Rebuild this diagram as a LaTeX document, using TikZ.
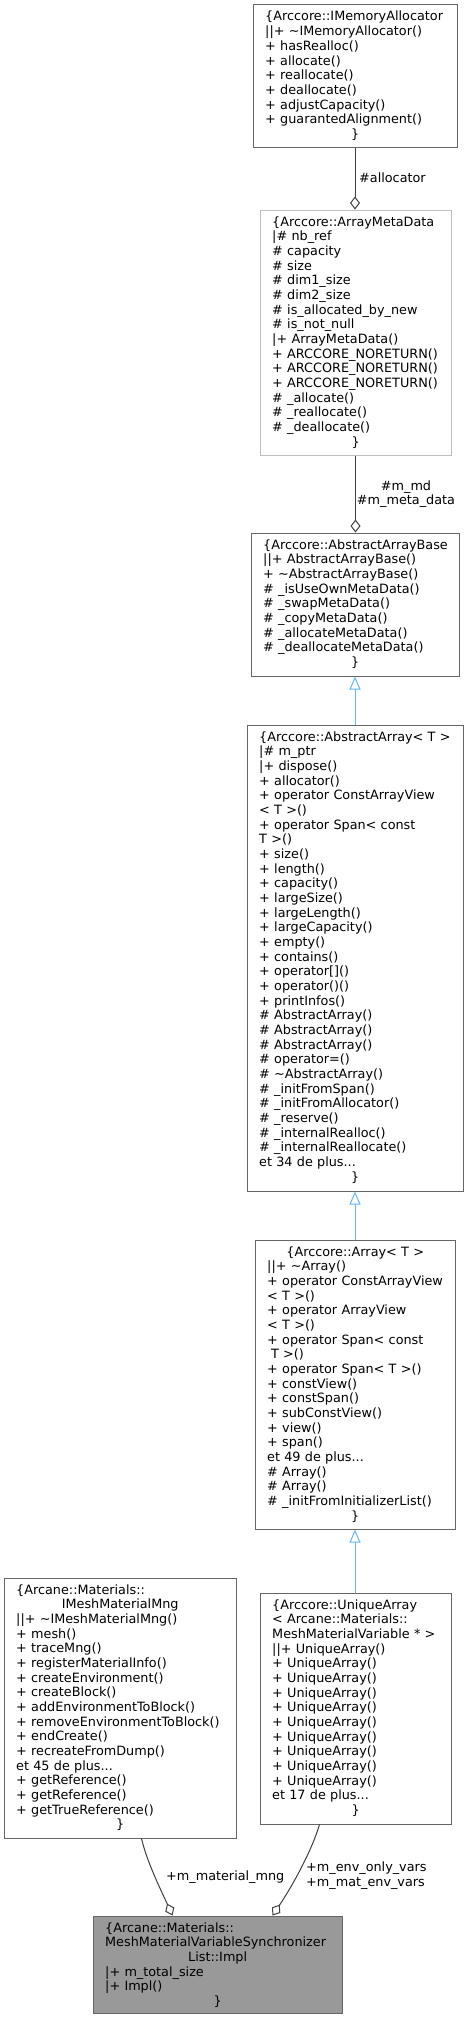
\documentclass[tikz,border=0pt]{standalone}
\usepackage{fontspec}
\setmainfont{DejaVu Sans}
\usetikzlibrary{arrows.meta,calc}
\definecolor{bordc}{HTML}{666666}
\definecolor{lightbord}{HTML}{BFBFBF}
\definecolor{implfill}{HTML}{999999}
\definecolor{aggc}{HTML}{404040}
\definecolor{inhc}{HTML}{63B8FF}
\newcommand{\dfs}{\fontsize{12.8}{14.67}\selectfont\hyphenpenalty=10000\exhyphenpenalty=10000}
\newcommand{\ctr}[2]{\makebox[#1][c]{#2}}
\newcommand{\tld}{\textasciitilde}
\begin{document}
\begin{tikzpicture}[x=1pt,y=-1pt,
  umlbox/.style={draw=bordc, line width=1pt, fill=white, inner sep=0pt},
  txt/.style={anchor=base west, inner sep=0pt, align=left, text width=400pt, font=\dfs},
  lbl/.style={inner sep=0pt, font=\dfs},
  agg/.style={draw=aggc, line width=1pt, -{Diamond[open, length=13pt, width=10pt, line width=1pt]}},
  inh/.style={draw=inhc, line width=1pt, -{Triangle[open, length=13pt, width=11pt, line width=1pt]}}]
\useasboundingbox[fill=white] (0,0) rectangle (468,2020);

% boxes
\node[umlbox, minimum width=204pt, minimum height=143pt] (b1) at (355,76.5) {};
\node[umlbox, draw=lightbord, minimum width=191pt, minimum height=245pt] (b2) at (355.5,332.5) {};
\node[umlbox, minimum width=208pt, minimum height=143pt] (b3) at (355,604.5) {};
\node[umlbox, minimum width=216pt, minimum height=466pt] (b4) at (355,958) {};
\node[umlbox, minimum width=200pt, minimum height=289pt] (b5) at (355,1384.5) {};
\node[umlbox, minimum width=191pt, minimum height=231pt] (b6) at (355.5,1708.5) {};
\node[umlbox, minimum width=232pt, minimum height=260pt] (b7) at (120,1708) {};
\node[umlbox, fill=implfill, minimum width=249pt, minimum height=97pt] (b8) at (217.5,1964.5) {};

% texts (left edge = box left + 12, centred lines span box width - 24)
\node[txt] (t1) at (265,21) {\{Arccore::IMemoryAllocator\\||+ \tld IMemoryAllocator()\\+ hasRealloc()\\+ allocate()\\+ reallocate()\\+ deallocate()\\+ adjustCapacity()\\+ guarantedAlignment()\\\ctr{180pt}{\}}};

\node[txt] (t2) at (272,226) {\{Arccore::ArrayMetaData\\|\# nb\_ref\\\# capacity\\\# size\\\# dim1\_size\\\# dim2\_size\\\# is\_allocated\_by\_new\\\# is\_not\_null\\|+ ArrayMetaData()\\+ ARCCORE\_NORETURN()\\+ ARCCORE\_NORETURN()\\+ ARCCORE\_NORETURN()\\\# \_allocate()\\\# \_reallocate()\\\# \_deallocate()\\\ctr{167pt}{\}}};

\node[txt] (t3) at (263,549) {\{Arccore::AbstractArrayBase\\||+ AbstractArrayBase()\\+ \tld AbstractArrayBase()\\\# \_isUseOwnMetaData()\\\# \_swapMetaData()\\\# \_copyMetaData()\\\# \_allocateMetaData()\\\# \_deallocateMetaData()\\\ctr{184pt}{\}}};

\node[txt] (t4) at (259,741) {\{Arccore::AbstractArray< T >\\|\# m\_ptr\\|+ dispose()\\+ allocator()\\+ operator ConstArrayView\\< T >()\\+ operator Span< const\\T >()\\+ size()\\+ length()\\+ capacity()\\+ largeSize()\\+ largeLength()\\+ largeCapacity()\\+ empty()\\+ contains()\\+ operator[]()\\+ operator()()\\+ printInfos()\\\# AbstractArray()\\\# AbstractArray()\\\# AbstractArray()\\\# operator=()\\\# \tld AbstractArray()\\\# \_initFromSpan()\\\# \_initFromAllocator()\\\# \_reserve()\\\# \_internalRealloc()\\\# \_internalReallocate()\\et 34 de plus...\\\ctr{192pt}{\}}};

\node[txt] (t5) at (267,1256) {\ctr{176pt}{\{Arccore::Array< T >}\\||+ \tld Array()\\+ operator ConstArrayView\\< T >()\\+ operator ArrayView\\< T >()\\+ operator Span< const\\\hspace*{0.3em}T >()\\+ operator Span< T >()\\+ constView()\\+ constSpan()\\+ subConstView()\\+ view()\\+ span()\\et 49 de plus...\\\# Array()\\\# Array()\\\# \_initFromInitializerList()\\\ctr{176pt}{\}}};

\node[txt] (t6) at (272,1609) {\{Arccore::UniqueArray\\< Arcane::Materials::\\MeshMaterialVariable * >\\||+ UniqueArray()\\+ UniqueArray()\\+ UniqueArray()\\+ UniqueArray()\\+ UniqueArray()\\+ UniqueArray()\\+ UniqueArray()\\+ UniqueArray()\\+ UniqueArray()\\+ UniqueArray()\\et 17 de plus...\\\ctr{167pt}{\}}};

\node[txt] (t7) at (16,1594) {\{Arcane::Materials::\\\ctr{208pt}{IMeshMaterialMng}\\||+ \tld IMeshMaterialMng()\\+ mesh()\\+ traceMng()\\+ registerMaterialInfo()\\+ createEnvironment()\\+ createBlock()\\+ addEnvironmentToBlock()\\+ removeEnvironmentToBlock()\\+ endCreate()\\+ recreateFromDump()\\et 45 de plus...\\+ getReference()\\+ getReference()\\+ getTrueReference()\\\ctr{208pt}{\}}};

\node[txt] (t8) at (105,1932) {\{Arcane::Materials::\\MeshMaterialVariableSynchronizer\\\ctr{225pt}{List::Impl}\\|+ m\_total\_size\\|+ Impl()\\\ctr{225pt}{\}}};

% aggregation edges
\draw[agg] (b1.south) -- (b1.south |- b2.north);
\node[lbl, anchor=west] (l1) at (359,178) {\#allocator};
\draw[agg] (b2.south) -- (b2.south |- b3.north);
\node[lbl, align=center] (l2) at (406,494) {\#m\_md\\\#m\_meta\_data};

% inheritance edges
\draw[inh] (b4.north) -- (b4.north |- b3.south);
\draw[inh] (b5.north) -- (b5.north |- b4.south);
\draw[inh] (b6.north -| b5.north) -- (b5.south);

% curved aggregation edges
\draw[agg] ($(b7.south west)+(138,0)$) .. controls (147,1862) and (160,1888) .. ($(b8.north west)+(80,0)$);
\node[lbl, anchor=west] (l3) at (166,1877) {+m\_material\_mng};
\draw[agg] ($(b6.south west)+(60,0)$) .. controls (312,1850) and (293,1885) .. ($(b8.north west)+(180,0)$);
\node[lbl, anchor=west, align=left] (l4) at (306,1875.5) {+m\_env\_only\_vars\\+m\_mat\_env\_vars};
\end{tikzpicture}
\end{document}
